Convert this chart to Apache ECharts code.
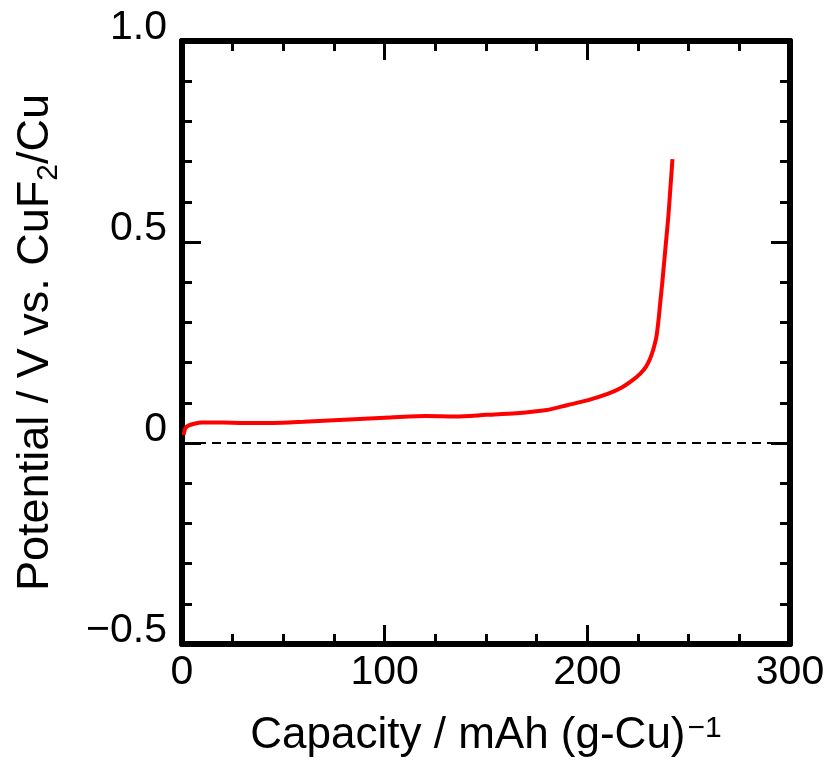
<!DOCTYPE html>
<html>
<head>
<meta charset="utf-8">
<title>CuF2 potential curve</title>
<script src="https://cdn.jsdelivr.net/npm/echarts@6/dist/echarts.min.js"></script>
<style>
  html, body { margin: 0; padding: 0; background: #fff; }
  #chart { width: 833px; height: 767px; }
</style>
</head>
<body>
<div id="chart"></div>
<script>
// 容量 mAh (g-Cu)^-1
const capacity = [0.8, 1.5, 3, 6, 10, 20, 30, 45, 60, 80, 100, 120, 135, 150, 165, 180, 190, 200, 210, 217, 222, 226, 229, 231, 232.5, 234, 235, 236, 237, 238, 239, 240, 241, 242];
// 电位 V vs. CuF2/Cu
const potential = [0.02, 0.035, 0.043, 0.048, 0.051, 0.051, 0.05, 0.05, 0.053, 0.058, 0.063, 0.067, 0.066, 0.07, 0.074, 0.082, 0.094, 0.106, 0.122, 0.138, 0.155, 0.172, 0.19, 0.21, 0.232, 0.262, 0.3, 0.35, 0.4, 0.455, 0.51, 0.565, 0.635, 0.706];
const refLine = [0];
const yTickLabels = { '-0.5': '\u22120.5', '0': '0', '0.5': '0.5', '1': '1.0' };

const font = "'Liberation Sans', Arial, Helvetica, sans-serif";

const chart = echarts.init(document.getElementById('chart'), null, { renderer: 'canvas' });

const lineStyleAxis = { color: '#000', width: 6 };
const tickCommon = { show: true, inside: true, length: 19, lineStyle: { color: '#000', width: 3 } };
const minorCommon = { show: true, length: 10, lineStyle: { color: '#000', width: 3 } };

const option = {
  animation: false,
  backgroundColor: '#fff',
  grid: { left: 182, right: 43, top: 41, bottom: 123 },
  xAxis: [
    {
      type: 'value',
      min: 0,
      max: 300,
      interval: 100,
      position: 'bottom',
      name: 'Capacity / mAh (g-Cu){sup|\u22121}',
      nameLocation: 'middle',
      nameGap: 70,
      nameTextStyle: {
        color: '#000', fontSize: 44, fontFamily: font, verticalAlign: 'top',
        rich: { sup: { fontSize: 30, fontFamily: font, color: '#000', verticalAlign: 'top', padding: [0, 0, 0, 2] } }
      },
      axisLine: { show: true, onZero: false, lineStyle: lineStyleAxis },
      axisTick: tickCommon,
      minorTick: Object.assign({ splitNumber: 4 }, minorCommon),
      splitLine: { show: false },
      axisLabel: { color: '#000', fontSize: 41, fontFamily: font, margin: 8 }
    },
    {
      type: 'value',
      min: 0,
      max: 300,
      interval: 100,
      position: 'top',
      axisLine: { show: true, onZero: false, lineStyle: lineStyleAxis },
      axisTick: tickCommon,
      minorTick: Object.assign({ splitNumber: 4 }, minorCommon),
      splitLine: { show: false },
      axisLabel: { show: false }
    }
  ],
  yAxis: [
    {
      type: 'value',
      min: -0.5,
      max: 1,
      interval: 0.5,
      position: 'left',
      name: 'Potential / V vs. CuF{sub|2}/Cu',
      nameLocation: 'middle',
      nameGap: 124,
      nameTextStyle: {
        color: '#000', fontSize: 45, fontFamily: font,
        rich: { sub: { fontSize: 30, fontFamily: font, color: '#000', verticalAlign: 'bottom', padding: [0, 0, -6, 0] } }
      },
      axisLine: { show: true, onZero: false, lineStyle: lineStyleAxis },
      axisTick: tickCommon,
      minorTick: Object.assign({ splitNumber: 5 }, minorCommon),
      splitLine: { show: false },
      axisLabel: {
        color: '#000', fontSize: 41, fontFamily: font, margin: 15,
        // 让数字基线略低于刻度，和原图一致
        verticalAlign: 'bottom', lineHeight: 26,
        formatter: (v) => yTickLabels[String(v)] !== undefined ? yTickLabels[String(v)] : ''
      }
    },
    {
      type: 'value',
      min: -0.5,
      max: 1,
      interval: 0.5,
      position: 'right',
      axisLine: { show: true, onZero: false, lineStyle: lineStyleAxis },
      axisTick: tickCommon,
      minorTick: Object.assign({ splitNumber: 5 }, minorCommon),
      splitLine: { show: false },
      axisLabel: { show: false }
    }
  ],
  series: [
    {
      type: 'line',
      data: capacity.map((c, i) => [c, potential[i]]),
      showSymbol: false,
      smooth: 0.25,
      lineStyle: { color: '#ff0000', width: 4 },
      z: 3,
      markLine: {
        silent: true,
        symbol: ['none', 'none'],
        label: { show: false },
        lineStyle: { color: '#000', width: 2, type: [9, 6] },
        data: refLine.map((v) => ({ yAxis: v }))
      }
    }
  ]
};

chart.setOption(option);
</script>
</body>
</html>
